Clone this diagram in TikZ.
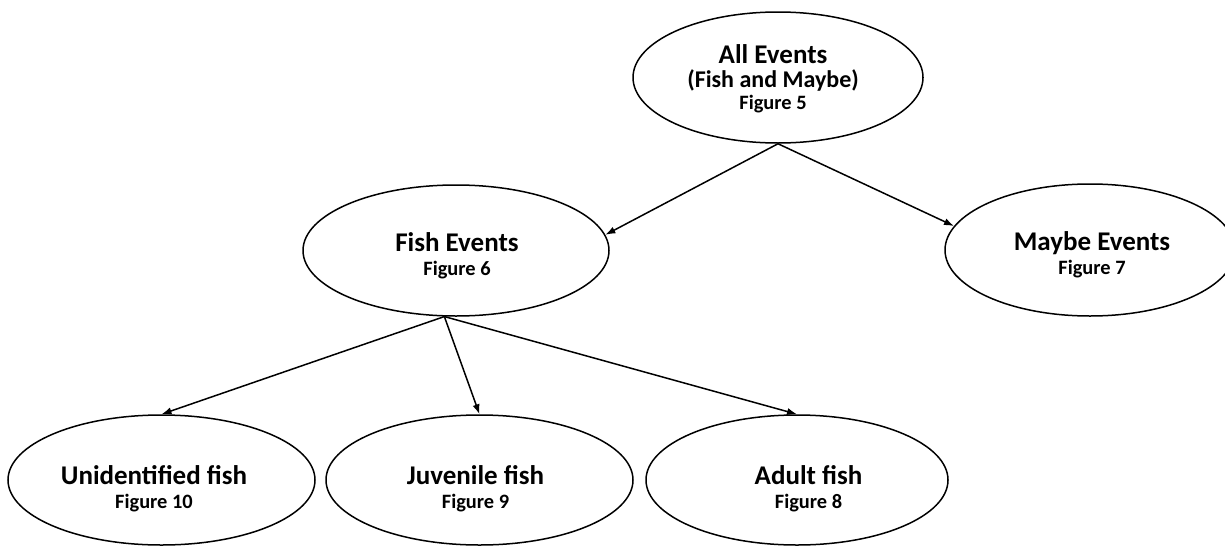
\documentclass[tikz,border=0pt]{standalone}
\usepackage{fontspec}
\setmainfont{Carlito}
\usetikzlibrary{arrows.meta, shapes.geometric}

\newcommand{\evfont}{\fontsize{13.5}{16}\selectfont}
\newcommand{\subfont}{\fontsize{12}{16}\selectfont}
\newcommand{\figfont}{\fontsize{10.2}{13}\selectfont}

\begin{document}
\begin{tikzpicture}[x=0.5pt, y=-0.5pt, line width=0.75pt,
    oval/.style={draw, ellipse, inner sep=0pt},
    txt/.style={align=center, font=\bfseries},
    arr/.style={-{Latex[length=5pt, width=3.6pt]}}]
	\useasboundingbox (0,0) rectangle (1225,546);

	% Draw the ellipses
	\node[oval, minimum width=145pt, minimum height=65.5pt] (all) at (778,77.5) {};
	\node[oval, minimum width=153pt, minimum height=65.5pt] (fish) at (456,250.5) {};
	\node[oval, minimum width=145pt, minimum height=66pt] (maybe) at (1090,250) {};
	\node[oval, minimum width=153.5pt, minimum height=65pt] (unid) at (161.5,480) {};
	\node[oval, minimum width=153.5pt, minimum height=65pt] (juv) at (479.5,480) {};
	\node[oval, minimum width=151pt, minimum height=65pt] (adult) at (797,480) {};

	% Write the text in the ellipses
	\node[txt] (alltxt) at (773,79) {\evfont All Events\\\subfont (Fish and Maybe)\\[-1pt]\figfont Figure 5};
	\node[txt] (fishtxt) at (457,256) {\evfont Fish Events\\\figfont Figure 6};
	\node[txt] (maybetxt) at (1092,255) {\evfont Maybe Events\\\figfont Figure 7};
	\node[txt] (unidtxt) at (154,489) {\evfont Unidentified fish\\\figfont Figure 10};
	\node[txt] (juvtxt) at (475.5,489) {\evfont Juvenile fish\\\figfont Figure 9};
	\node[txt] (adulttxt) at (808.5,489) {\evfont Adult fish\\\figfont Figure 8};

	% Draw the arrows
	\draw[arr] (all.south) -- (fish.6);
	\draw[arr] (all.south) -- (maybe.170);
	\draw[arr] (fish.260) -- (unid.north);
	\draw[arr] (fish.260) -- (juv.north);
	\draw[arr] (fish.260) -- (adult.north);
\end{tikzpicture}
\end{document}
